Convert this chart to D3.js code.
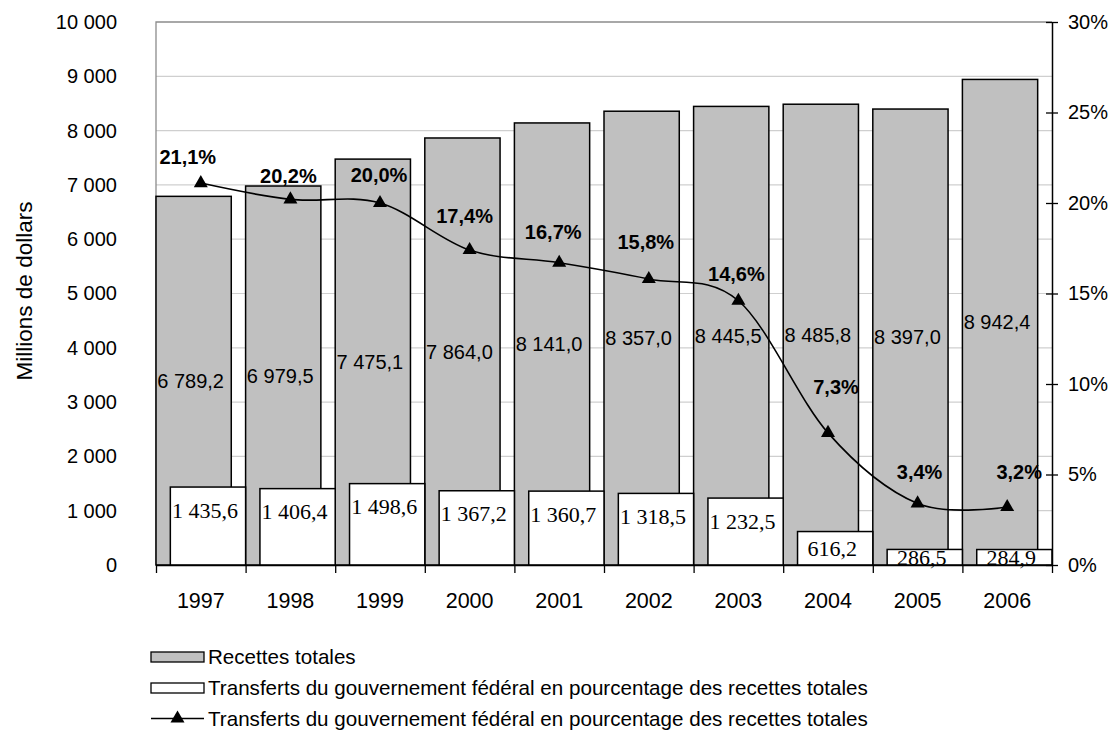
<!DOCTYPE html>
<html>
<head>
<meta charset="utf-8">
<script src="https://cdn.jsdelivr.net/npm/d3@7"></script>
<style>
  body { margin: 0; background: #fff; }
  text { font-family: "Liberation Sans", Arial, sans-serif; fill: #000; }
</style>
</head>
<body>
<div id="chart"></div>
<script>
const years = [1997, 1998, 1999, 2000, 2001, 2002, 2003, 2004, 2005, 2006];
const recettes = [6789.2, 6979.5, 7475.1, 7864.0, 8141.0, 8357.0, 8445.5, 8485.8, 8397.0, 8942.4];
const transferts = [1435.6, 1406.4, 1498.6, 1367.2, 1360.7, 1318.5, 1232.5, 616.2, 286.5, 284.9];
const pourcentage = [21.1, 20.2, 20.0, 17.4, 16.7, 15.8, 14.6, 7.3, 3.4, 3.2];
const leftTicks = [0, 1000, 2000, 3000, 4000, 5000, 6000, 7000, 8000, 9000, 10000];
const rightTicks = [0, 5, 10, 15, 20, 25, 30];
const legendLabels = [
  "Recettes totales",
  "Transferts du gouvernement fédéral en pourcentage des recettes totales",
  "Transferts du gouvernement fédéral en pourcentage des recettes totales"
];

// label nudges for the % labels (px), as placed in the original
const pctDx = [-13, -2, -1, -5, -6, -3, -2, 8, 2, 12];
const pctDy = [-26, -24, -28, -34, -31, -37, -27, -46, -32, -35];

const fr = d3.formatLocale({ decimal: ",", thousands: " ", grouping: [3], currency: ["", " $"] });
const fmtInt = fr.format(",d");
const fmt1 = fr.format(",.1f");

const width = 1111, height = 732;
const pLeft = 156, pRight = 1052, pTop = 22, pBottom = 565;

const svg = d3.select("#chart").append("svg")
    .attr("width", width)
    .attr("height", height);

const x = d3.scaleBand().domain(years).range([pLeft, pRight]).padding(0);
const y = d3.scaleLinear().domain([0, 10000]).range([pBottom, pTop]);
const yR = d3.scaleLinear().domain([0, 30]).range([pBottom, pTop]);
const barW = x.bandwidth() * 0.84;

// grid
svg.append("g").selectAll("line")
    .data(leftTicks.filter(d => d > 0 && d < 10000))
    .enter().append("line")
        .attr("x1", pLeft).attr("x2", pRight)
        .attr("y1", d => y(d)).attr("y2", d => y(d))
        .attr("stroke", "#cfcfcf").attr("stroke-width", 1.2);

// plot border (top, left)
svg.append("path")
    .attr("d", `M${pLeft},${pBottom}V${pTop}H${pRight}`)
    .attr("fill", "none").attr("stroke", "#8c8c8c").attr("stroke-width", 1.3);

// grey bars
svg.append("g").selectAll("rect")
    .data(recettes)
    .enter().append("rect")
        .attr("x", (d, i) => x(years[i]))
        .attr("y", d => y(d))
        .attr("width", barW)
        .attr("height", d => pBottom - y(d))
        .attr("fill", "#c0c0c0")
        .attr("stroke", "#000").attr("stroke-width", 1.5);

// white bars
svg.append("g").selectAll("rect")
    .data(transferts)
    .enter().append("rect")
        .attr("x", (d, i) => x(years[i]) + x.bandwidth() - barW)
        .attr("y", d => y(d))
        .attr("width", barW)
        .attr("height", d => pBottom - y(d))
        .attr("fill", "#fff")
        .attr("stroke", "#000").attr("stroke-width", 1.5);

// grey bar labels
svg.append("g").selectAll("text")
    .data(recettes)
    .enter().append("text")
        .attr("x", (d, i) => x(years[i]) + barW / 2 - 3)
        .attr("y", d => (y(d) + pBottom) / 2)
        .attr("dy", "0.36em")
        .attr("text-anchor", "middle")
        .style("font-size", "20px")
        .text(d => fmt1(d));

// white bar labels
svg.append("g").selectAll("text")
    .data(transferts)
    .enter().append("text")
        .attr("x", (d, i) => x(years[i]) + x.bandwidth() - barW / 2 - 3)
        .attr("y", d => y(d) + Math.min((pBottom - y(d)) / 2, 23))
        .attr("dy", "0.34em")
        .attr("text-anchor", "middle")
        .style("font-family", "'Liberation Serif', 'Times New Roman', serif")
        .style("font-size", "22px")
        .text(d => fmt1(d));

// line
const cx = (d, i) => x(years[i]) + x.bandwidth() / 2;
const line = d3.line()
    .x(cx)
    .y(d => yR(d))
    .curve(d3.curveCatmullRom.alpha(0));

svg.append("path")
    .datum(pourcentage)
    .attr("d", line)
    .attr("fill", "none")
    .attr("stroke", "#000").attr("stroke-width", 1.6);

const tri = d3.symbol().type(d3.symbolTriangle).size(85);
svg.append("g").selectAll("path")
    .data(pourcentage)
    .enter().append("path")
        .attr("d", tri)
        .attr("transform", (d, i) => `translate(${cx(d, i)},${yR(d)})`)
        .attr("fill", "#000");

svg.append("g").selectAll("text")
    .data(pourcentage)
    .enter().append("text")
        .attr("x", (d, i) => cx(d, i) + pctDx[i])
        .attr("y", (d, i) => yR(d) + pctDy[i])
        .attr("dy", "0.36em")
        .attr("text-anchor", "middle")
        .style("font-size", "20px")
        .style("font-weight", "bold")
        .text(d => fmt1(d) + "%");

// bottom axis: boundary ticks
const xb = d3.scaleLinear().domain([0, years.length]).range([pLeft, pRight]);
const gxb = svg.append("g")
    .attr("transform", `translate(0,${pBottom})`)
    .call(d3.axisBottom(xb).ticks(years.length).tickSize(8).tickSizeOuter(0).tickFormat(""));
gxb.selectAll("line").attr("stroke", "#000").attr("stroke-width", 1.3);
gxb.select(".domain").attr("stroke", "#000").attr("stroke-width", 1.5);

const gx = svg.append("g")
    .attr("transform", `translate(0,${pBottom})`)
    .call(d3.axisBottom(x).tickSize(0).tickPadding(28));
gx.select(".domain").remove();
gx.selectAll("text").style("font-size", "21.5px").style("font-family", "'Liberation Sans', Arial, sans-serif");

// left axis
const gy = svg.append("g")
    .attr("transform", `translate(${pLeft},0)`)
    .call(d3.axisLeft(y).tickValues(leftTicks).tickSize(0).tickPadding(39).tickFormat(fmtInt));
gy.select(".domain").remove();
gy.selectAll("text").style("font-size", "20px").style("font-family", "'Liberation Sans', Arial, sans-serif");

// right axis
const gr = svg.append("g")
    .attr("transform", `translate(${pRight},0)`)
    .call(d3.axisRight(yR).tickValues(rightTicks).tickSize(6).tickSizeOuter(0).tickPadding(10).tickFormat(d => d + "%"));
gr.select(".domain").attr("stroke", "#000").attr("stroke-width", 1.5);
gr.selectAll(".tick line").attr("x1", -6).attr("stroke", "#000").attr("stroke-width", 1.3);
gr.selectAll("text").style("font-size", "20px").style("font-family", "'Liberation Sans', Arial, sans-serif");

// y title
svg.append("text")
    .attr("transform", "translate(31.5,291) rotate(-90)")
    .attr("text-anchor", "middle")
    .style("font-size", "22.5px")
    .text("Millions de dollars");

// legend
const legendY = [657, 688, 718.5];
const lg = svg.append("g");
lg.append("rect")
    .attr("x", 151).attr("y", legendY[0] - 5).attr("width", 53).attr("height", 10)
    .attr("fill", "#c0c0c0").attr("stroke", "#000").attr("stroke-width", 1.3);
lg.append("rect")
    .attr("x", 151).attr("y", legendY[1] - 5).attr("width", 53).attr("height", 10)
    .attr("fill", "#fff").attr("stroke", "#000").attr("stroke-width", 1.3);
lg.append("line")
    .attr("x1", 151).attr("x2", 204).attr("y1", legendY[2]).attr("y2", legendY[2])
    .attr("stroke", "#000").attr("stroke-width", 1.5);
lg.append("path")
    .attr("d", tri)
    .attr("transform", `translate(177.5,${legendY[2]})`)
    .attr("fill", "#000");
lg.selectAll("text")
    .data(legendLabels)
    .enter().append("text")
        .attr("x", 208)
        .attr("y", (d, i) => legendY[i])
        .attr("dy", "0.36em")
        .style("font-size", "20.6px")
        .text(d => d);
</script>
</body>
</html>
